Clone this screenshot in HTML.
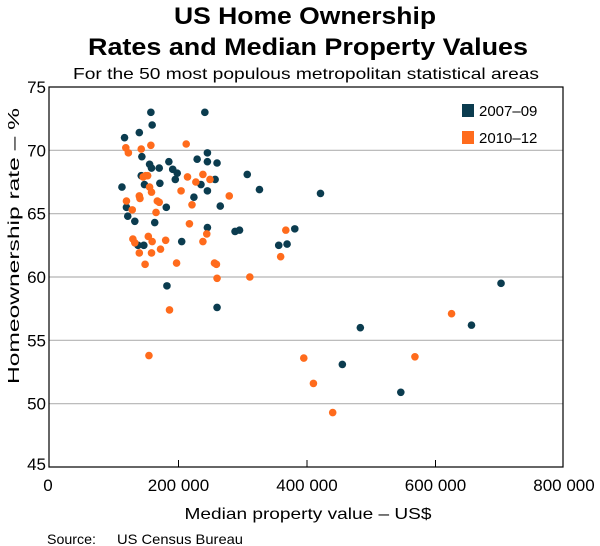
<!DOCTYPE html>
<html><head><meta charset="utf-8"><style>
html,body{margin:0;padding:0;background:#fff;}
svg{display:block;font-family:"Liberation Sans",Arial,sans-serif;}
</style></head><body>
<svg id="chart" width="600" height="546" viewBox="0 0 600 546" xmlns="http://www.w3.org/2000/svg">
<text x="305" y="24" text-anchor="middle" font-size="24" font-weight="bold" textLength="262" lengthAdjust="spacingAndGlyphs">US Home Ownership</text>
<text x="308" y="55" text-anchor="middle" font-size="24" font-weight="bold" textLength="440" lengthAdjust="spacingAndGlyphs">Rates and Median Property Values</text>
<text x="306" y="79" text-anchor="middle" font-size="16" textLength="466" lengthAdjust="spacingAndGlyphs">For the 50 most populous metropolitan statistical areas</text>
<g id="grid"></g>
<g id="dots"></g>
<rect x="49" y="87" width="514" height="380" fill="none" stroke="#000" stroke-width="1.2"/>
<g id="axes"></g>
<text transform="translate(19,246) rotate(-90)" text-anchor="middle" font-size="16" textLength="276" lengthAdjust="spacingAndGlyphs">Homeownership rate – %</text>
<text x="308" y="519" text-anchor="middle" font-size="16" textLength="247" lengthAdjust="spacingAndGlyphs">Median property value – US$</text>
<text x="47" y="544" font-size="14" textLength="49" lengthAdjust="spacingAndGlyphs">Source:</text>
<text x="117" y="544" font-size="14" textLength="126" lengthAdjust="spacingAndGlyphs">US Census Bureau</text>
<g>
<rect x="462" y="104" width="12" height="13" fill="#0b3c4f"/>
<text x="479" y="116" font-size="15">2007–09</text>
<rect x="462" y="131" width="12" height="13" fill="#ff6b1c"/>
<text x="479" y="143" font-size="15">2010–12</text>
</g>
</svg>
<script>
const yTicks = [45, 50, 55, 60, 65, 70, 75];
const xTicks = [0, 200000, 400000, 600000, 800000];
const xTickLabels = ["0", "200 000", "400 000", "600 000", "800 000"];
// x values in thousands of US$
const darkX = [157,241,159,139,116,143,245,229,245,260,185,155,158,170,191,198,195,142,307,257,235,245,147,171,112,326,224,119,181,265,121,132,163,245,288,295,381,421,137,146,205,356,369,182,260,702,656,483,455,546];
const darkY = [73.0,73.0,72.0,71.4,71.0,69.5,69.8,69.3,69.1,69.0,69.1,68.9,68.6,68.6,68.5,68.2,67.7,68.0,68.1,67.7,67.3,66.8,67.3,67.4,67.1,66.9,66.3,65.5,65.5,65.6,64.8,64.4,64.3,63.9,63.6,63.7,63.8,66.6,62.5,62.5,62.8,62.5,62.6,59.3,57.6,59.5,56.2,56.0,53.1,50.9];
const orangeX = [118,122,142,157,212,145,149,152,155,158,214,227,238,249,204,139,140,119,167,170,128,165,221,279,217,244,238,129,132,153,159,180,139,158,172,148,197,256,259,260,311,367,359,186,625,395,568,410,440,154];
const orangeY = [70.2,69.8,70.1,70.4,70.5,67.9,68.0,68.0,67.1,66.7,67.9,67.5,68.1,67.7,66.8,66.4,66.2,66.0,66.0,65.9,65.3,65.1,65.7,66.4,64.2,63.4,62.8,63.0,62.7,63.2,62.8,62.9,61.9,61.9,62.2,61.0,61.1,61.1,61.0,59.9,60.0,63.7,61.6,57.4,57.1,53.6,53.7,51.6,49.3,53.8];

const NS = "http://www.w3.org/2000/svg";
const X0 = 50, X1 = 564, YT = 87, YB = 467;
function xs(v){ return X0 + v / 800 * (X1 - X0); }
function xsRaw(v){ return X0 + v / 800000 * (X1 - X0); }
function ys(v){ return YB - (v - 45) / 30 * (YB - YT); }

const grid = document.getElementById('grid');
const axes = document.getElementById('axes');
yTicks.forEach(function(t){
  if (t > 45 && t < 75) {
    const l = document.createElementNS(NS, 'line');
    l.setAttribute('x1', 49); l.setAttribute('x2', 563);
    l.setAttribute('y1', ys(t)); l.setAttribute('y2', ys(t));
    l.setAttribute('stroke', '#b3b3b3'); l.setAttribute('stroke-width', '1.2');
    
    
    grid.appendChild(l);
  }
  const tx = document.createElementNS(NS, 'text');
  tx.setAttribute('x', 46); tx.setAttribute('y', ys(t) + (t === 45 ? 3 : 6));
  tx.setAttribute('text-anchor', 'end'); tx.setAttribute('font-size', '17');
  tx.textContent = String(t);
  
  
  axes.appendChild(tx);
});
xTicks.forEach(function(t, i){
  const px = xsRaw(t);
  if (i > 0 && i < xTicks.length - 1) {
    const l = document.createElementNS(NS, 'line');
    l.setAttribute('x1', px); l.setAttribute('x2', px);
    l.setAttribute('y1', YB - 7); l.setAttribute('y2', YB);
    l.setAttribute('stroke', '#000'); l.setAttribute('stroke-width', '1');
    
    
    axes.appendChild(l);
  }
  const tx = document.createElementNS(NS, 'text');
  tx.setAttribute('x', i === 0 ? px - 2 : px); tx.setAttribute('y', 491);
  tx.setAttribute('text-anchor', 'middle'); tx.setAttribute('font-size', '17');
  tx.textContent = xTickLabels[i];
  
  
  axes.appendChild(tx);
});

const dots = document.getElementById('dots');
function drawSeries(xv, yv, color, name){
  xv.forEach(function(v, i){
    const c = document.createElementNS(NS, 'circle');
    c.setAttribute('cx', xs(v)); c.setAttribute('cy', ys(yv[i]));
    c.setAttribute('r', 3.8); c.setAttribute('fill', color);
    
    
    dots.appendChild(c);
  });
}
drawSeries(darkX, darkY, '#0b3c4f', 'point-2007-09');
drawSeries(orangeX, orangeY, '#ff6b1c', 'point-2010-12');
</script>
</body></html>
